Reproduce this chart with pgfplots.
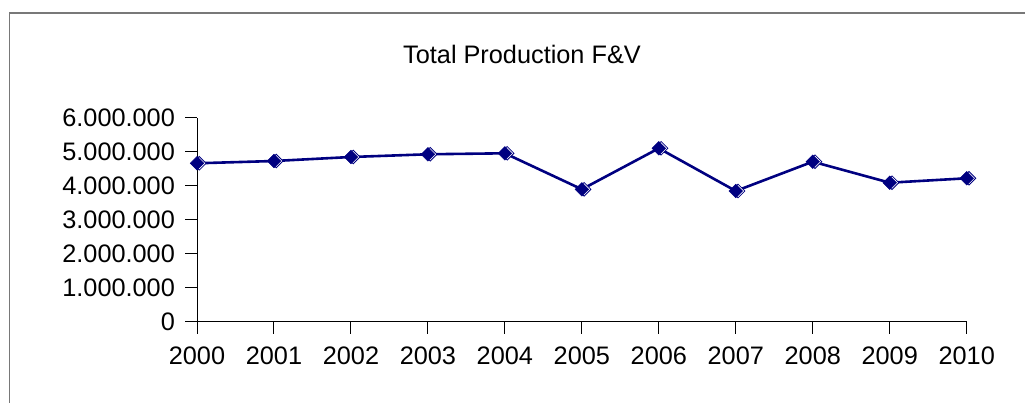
\documentclass[border=0pt]{standalone}
\usepackage{fontspec}
\setmainfont{Liberation Sans}
\usepackage{pgfplots}
\pgfplotsset{compat=1.18}
\definecolor{navy}{HTML}{000080}
\definecolor{framegray}{RGB}{120,120,120}
\pgfplotstableread{
year value
2000 4659000
2001 4726000
2002 4844000
2003 4924000
2004 4953000
2005 3894000
2006 5100000
2007 3844000
2008 4706000
2009 4088000
2010 4218000
}\prod
\begin{document}
\fontsize{25.3}{30}\selectfont
\begin{tikzpicture}
\useasboundingbox (0,0) rectangle (1025pt,403pt);
\draw[framegray, line width=1.3pt] (9.5pt,-20pt) -- (9.5pt,390pt) -- (1050pt,390pt);
\node[anchor=base, inner sep=0pt] at (522pt,339pt) {\fontsize{25.3}{30}\selectfont Total Production F\&V};
\begin{axis}[
  at={(197pt,81.3pt)}, anchor=south west,
  scale only axis, width=769.7pt, height=204pt,
  xmin=2000, xmax=2010, ymin=0, ymax=6000000,
  axis lines*=left,
  axis line style={black, line width=1pt},
  tick style={black, line width=1pt},
  tick align=outside,
  major tick length=12pt,
  xtick={2000,2001,2002,2003,2004,2005,2006,2007,2008,2009,2010},
  xticklabels={2000,2001,2002,2003,2004,2005,2006,2007,2008,2009,2010},
  ytick={0,1000000,2000000,3000000,4000000,5000000,6000000},
  yticklabels={0,1.000.000,2.000.000,3.000.000,4.000.000,5.000.000,6.000.000},
  scaled ticks=false,
  tick label style={font=\fontsize{25.3}{30}\selectfont},
  xticklabel style={anchor=north, inner sep=0pt, yshift=-13pt},
  yticklabel style={anchor=east, inner sep=0pt, xshift=-10pt},
  clip=false,
]
\addplot[draw=none, mark=square*, mark size=4.8pt,
  mark options={rotate=45, xshift=1.6pt, yshift=-1.6pt, draw=navy, fill=white, line width=0.8pt}]
  table[x=year, y=value] {\prod};
\addplot[navy, line width=2.6pt, mark=square*, mark size=4.8pt,
  mark options={rotate=45, fill=navy, draw=navy, line width=0.5pt}]
  table[x=year, y=value] {\prod};
\end{axis}
\end{tikzpicture}
\end{document}
